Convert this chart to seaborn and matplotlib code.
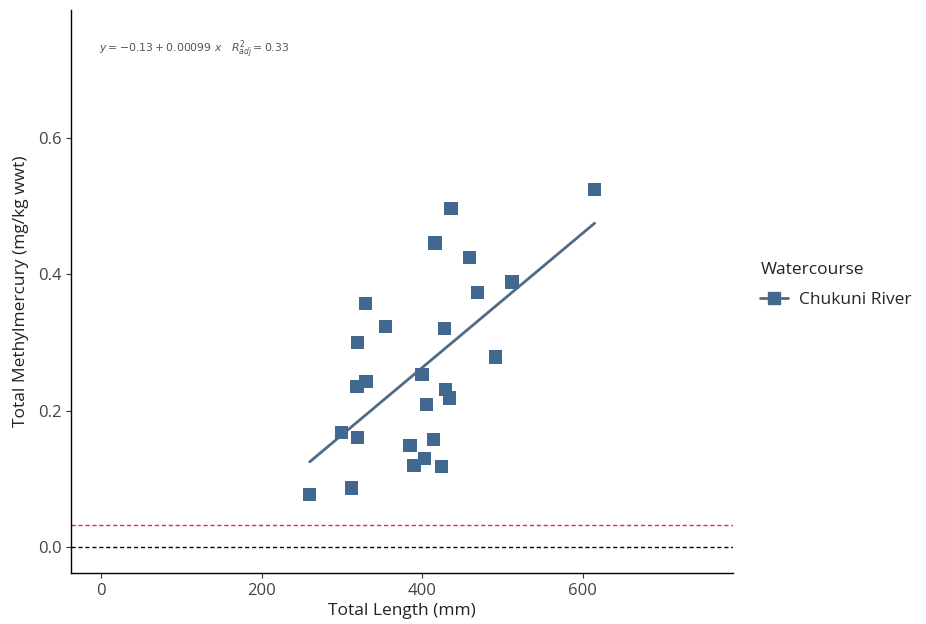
import matplotlib
matplotlib.use("Agg")
import matplotlib.pyplot as plt
import seaborn as sns
import pandas as pd
import numpy as np
from matplotlib.lines import Line2D

sns.set_theme(style="ticks")
plt.rcParams['font.family'] = ['Open Sans', 'DejaVu Sans']

# Data
total_length = [615, 436, 416, 459, 512, 469, 329, 354, 428, 320, 491, 400, 330, 319,
                429, 434, 405, 300, 320, 414, 385, 403, 390, 424, 312, 260]
methylmercury = [0.525, 0.497, 0.446, 0.425, 0.389, 0.374, 0.358, 0.324, 0.321, 0.300,
                 0.279, 0.253, 0.243, 0.236, 0.231, 0.219, 0.210, 0.169, 0.161, 0.158,
                 0.149, 0.130, 0.120, 0.119, 0.087, 0.078]
watercourse = ["Chukuni River"] * len(total_length)
x_ticks = [0, 200, 400, 600]
y_ticks = [0.0, 0.2, 0.4, 0.6]
guideline = 0.033
equation_text = r"$y = -0.13 + 0.00099\ x\quad R^2_{adj} = 0.33$"

df = pd.DataFrame({"Total Length (mm)": total_length,
                   "Total Methylmercury (mg/kg wwt)": methylmercury,
                   "Watercourse": watercourse})

point_color = "#41698f"
line_color = "#4f6b86"

fig = plt.figure(figsize=(9.26, 6.24), dpi=100)
ax = fig.add_axes([0.0767, 0.0817, 0.7149, 0.9023])

sns.regplot(data=df, x="Total Length (mm)", y="Total Methylmercury (mg/kg wwt)",
            ax=ax, ci=None, scatter=False, truncate=True,
            line_kws=dict(color=line_color, lw=2.0, zorder=2))
sns.scatterplot(data=df, x="Total Length (mm)", y="Total Methylmercury (mg/kg wwt)",
                ax=ax, marker="s", s=90, color=point_color, edgecolor="none",
                zorder=3, legend=False)

ax.axhline(guideline, color="#e8283c", ls=(0, (3, 2)), lw=1.0, zorder=1)
ax.axhline(0.0, color="black", ls=(0, (3, 2)), lw=1.0, zorder=1)

ax.set_xlim(-37.5, 787.5)
ax.set_ylim(-0.0375, 0.7875)
ax.set_xticks(x_ticks)
ax.set_yticks(y_ticks)
ax.set_xticklabels([str(v) for v in x_ticks])
ax.set_yticklabels([f"{v:.1f}" for v in y_ticks])
ax.tick_params(axis="both", labelsize=12, colors="#333333", length=3.5, width=0.8)
ax.tick_params(axis="both", labelcolor="#444444")
for s in ["top", "right"]:
    ax.spines[s].set_visible(False)
for s in ["left", "bottom"]:
    ax.spines[s].set_linewidth(1.0)
    ax.spines[s].set_color("black")
ax.set_xlabel("Total Length (mm)", fontsize=12.5, color="#222222", labelpad=3)
ax.set_ylabel("Total Methylmercury (mg/kg wwt)", fontsize=12.5, color="#222222", labelpad=6)

ax.text(0.043, 0.929, equation_text, transform=ax.transAxes, fontsize=7.8,
        color="#555555", ha="left", va="center")

handle = Line2D([0], [0], color=line_color, lw=2.0, marker="s", markersize=9,
                markerfacecolor=point_color, markeredgecolor=point_color)
leg = fig.legend([handle], ["Chukuni River"], title="Watercourse",
                 loc="upper left", bbox_to_anchor=(0.808, 0.60), frameon=False,
                 fontsize=12.5, title_fontsize=12.5, handlelength=1.6,
                 handletextpad=0.6, borderaxespad=0.3)
leg._legend_box.align = "left"
leg._legend_box.sep = 10
leg.get_title().set_color("#222222")

fig.savefig("out.png", dpi=100)
